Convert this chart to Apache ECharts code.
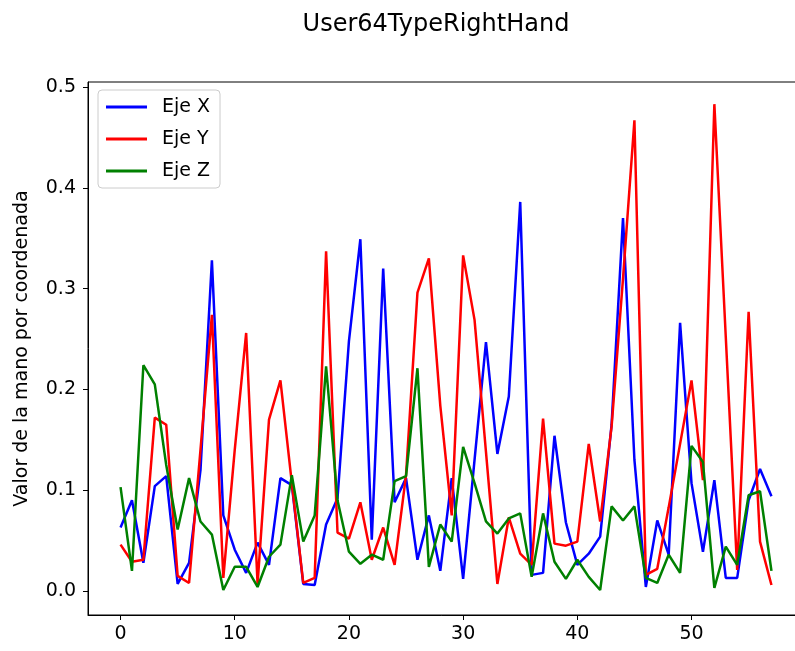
<!DOCTYPE html>
<html>
<head>
<meta charset="utf-8">
<script src="https://cdn.jsdelivr.net/npm/echarts@6/dist/echarts.min.js"></script>
<style>html,body{margin:0;padding:0;background:#fff}#c{width:795px;height:651px}</style>
</head>
<body>
<div id="c"></div>
<script>
var titleText = 'User64TypeRightHand';
var yAxisName = 'Valor de la mano por coordenada';
var seriesNames = ['Eje X', 'Eje Y', 'Eje Z'];
var seriesColors = ['#0000ff', '#ff0000', '#008000'];
var xTickValues = [0, 10, 20, 30, 40, 50];
var yTickValues = [0.0, 0.1, 0.2, 0.3, 0.4, 0.5];

var ejeX = [0.063,0.090,0.028,0.104,0.114,0.007,0.028,0.120,0.328,0.075,
            0.041,0.018,0.048,0.026,0.112,0.105,0.007,0.006,0.066,0.092,
            0.248,0.349,0.051,0.320,0.088,0.112,0.031,0.075,0.020,0.112,
            0.012,0.130,0.247,0.136,0.193,0.386,0.016,0.018,0.154,0.068,
            0.026,0.037,0.054,0.165,0.370,0.130,0.004,0.070,0.036,0.266,
            0.107,0.039,0.110,0.013,0.013,0.090,0.121,0.094];
var ejeY = [0.046,0.029,0.031,0.172,0.165,0.015,0.008,0.140,0.274,0.013,
            0.140,0.256,0.007,0.170,0.209,0.107,0.008,0.013,0.337,0.058,
            0.052,0.088,0.031,0.063,0.026,0.115,0.296,0.330,0.184,0.075,
            0.333,0.269,0.138,0.007,0.073,0.037,0.026,0.171,0.047,0.045,
            0.049,0.146,0.069,0.163,0.310,0.467,0.016,0.022,0.083,0.146,
            0.209,0.110,0.483,0.252,0.021,0.277,0.049,0.006];
var ejeZ = [0.103,0.020,0.224,0.205,0.125,0.061,0.112,0.069,0.056,0.001,
            0.024,0.024,0.004,0.034,0.046,0.115,0.049,0.075,0.223,0.090,
            0.039,0.027,0.036,0.031,0.109,0.114,0.221,0.024,0.066,0.049,
            0.143,0.107,0.069,0.057,0.072,0.077,0.014,0.077,0.029,0.012,
            0.031,0.014,0.001,0.084,0.070,0.084,0.013,0.008,0.036,0.018,
            0.144,0.128,0.003,0.044,0.026,0.095,0.099,0.020];

var FONT = 'DejaVu Sans';
function pairs(arr){ return arr.map(function(v,i){ return [i, v]; }); }
var allData = [ejeX, ejeY, ejeZ];

var chart = echarts.init(document.getElementById('c'), null, {renderer:'canvas'});
chart.setOption({
  animation: false,
  backgroundColor: '#ffffff',
  title: {
    text: titleText, left: 431, top: 8, textAlign: 'center',
    textStyle: {fontFamily: FONT, fontSize: 24, fontWeight: 'normal', color: '#000'}
  },
  legend: {
    data: seriesNames, orient: 'vertical', left: 98, top: 90,
    padding: [6, 10, 6, 8], itemGap: 10, itemWidth: 41, itemHeight: 3,
    icon: 'rect',
    borderColor: '#cccccc', borderWidth: 1, borderRadius: 4,
    backgroundColor: 'rgba(255,255,255,0.8)',
    textStyle: {fontFamily: FONT, fontSize: 19, color: '#000', lineHeight: 22, padding: [0,0,0,10]}
  },
  grid: {left: 88, top: 82, right: -9, bottom: 36, show: true, borderColor: '#000', borderWidth: 1,
         backgroundColor: 'transparent', containLabel: false, outerBoundsMode: 'none'},
  xAxis: {
    type: 'value', min: -2.85, max: 59.85,
    axisLine: {show: true, onZero: false, lineStyle: {color: '#000', width: 1}},
    axisTick: {show: true, length: 5, lineStyle: {color: '#000'}, customValues: xTickValues},
    splitLine: {show: false},
    axisLabel: {fontFamily: FONT, fontSize: 19, color: '#000', margin: 10, customValues: xTickValues,
      formatter: function(v){ return String(Math.round(v)); }}
  },
  yAxis: {
    type: 'value', min: -0.0238, max: 0.505,
    name: yAxisName, nameLocation: 'middle', nameRotate: 90, nameGap: 56,
    nameTextStyle: {fontFamily: FONT, fontSize: 19, color: '#000'},
    axisLine: {show: true, onZero: false, lineStyle: {color: '#000', width: 1}},
    axisTick: {show: true, length: 5, lineStyle: {color: '#000'}, customValues: yTickValues},
    splitLine: {show: false},
    axisLabel: {fontFamily: FONT, fontSize: 19, color: '#000', margin: 12, customValues: yTickValues,
      formatter: function(v){ return (Math.round(v*10)/10).toFixed(1); }}
  },
  series: seriesNames.map(function(n, k){
    return {
      name: n, type: 'line', data: pairs(allData[k]), symbol: 'none', showSymbol: false,
      lineStyle: {color: seriesColors[k], width: 2.5}, itemStyle: {color: seriesColors[k]},
      clip: true
    };
  })
});
</script>
</body>
</html>
